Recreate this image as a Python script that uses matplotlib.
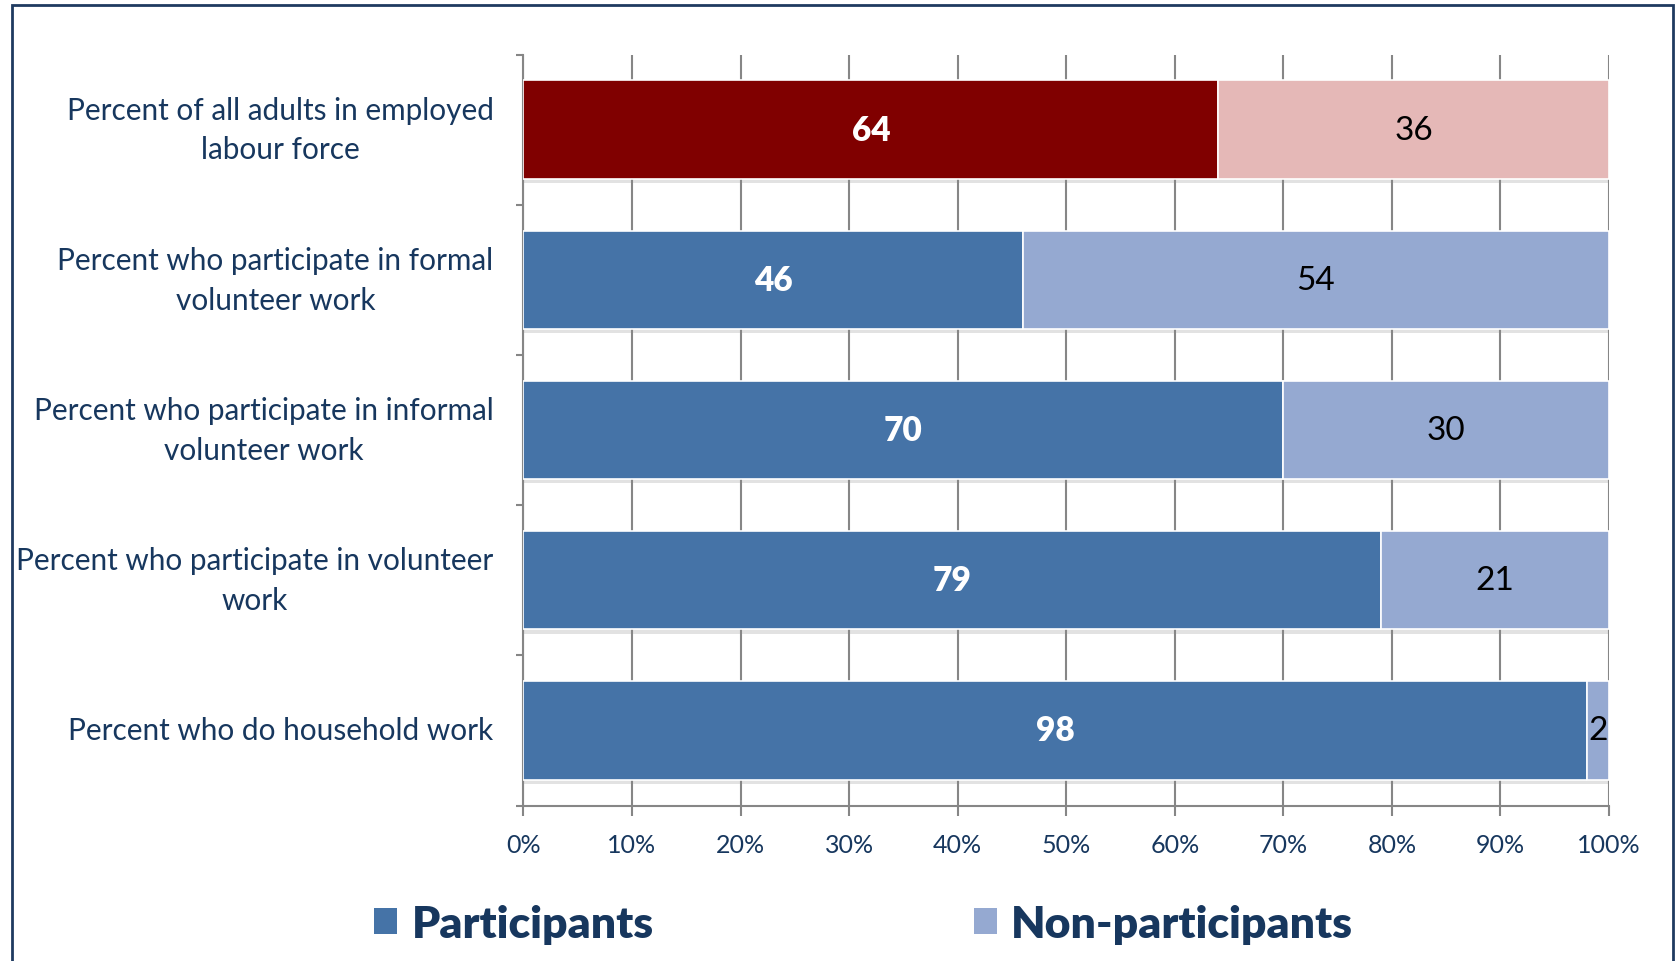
import matplotlib
matplotlib.use("Agg")
import matplotlib.pyplot as plt
import matplotlib.patheffects as pe
from matplotlib.patches import Patch, Rectangle
import numpy as np

# Data
categories = [
    "Percent of all adults in employed\nlabour force",
    "Percent who participate in formal\nvolunteer work",
    "Percent who participate in informal\nvolunteer work",
    "Percent who participate in volunteer\nwork",
    "Percent who do household work",
]
participants = [64, 46, 70, 79, 98]
non_participants = [36, 54, 30, 21, 2]
x_ticks = [0, 10, 20, 30, 40, 50, 60, 70, 80, 90, 100]
x_tick_labels = [f"{v}%" for v in x_ticks]
legend_labels = ["Participants", "Non-participants"]

NAVY = "#17375E"
BLUE = "#4573A7"
LIGHT_BLUE = "#95A9D1"
RED = "#800000"
PINK = "#E5B8B7"
GRID = "#868686"

plt.rcParams["font.family"] = ["Lato", "DejaVu Sans"]

fig = plt.figure(figsize=(16.75, 9.62), dpi=100)
ax = fig.add_axes([0.3125, 0.1616, 0.9606 - 0.3125, 0.9423 - 0.1616])

y = np.arange(len(categories))
part_colors = [RED] + [BLUE] * (len(categories) - 1)
non_colors = [PINK] + [LIGHT_BLUE] * (len(categories) - 1)

shadow = [pe.SimplePatchShadow(offset=(0, -3), shadow_rgbFace="#8c8c8c", alpha=0.25), pe.Normal()]

b1 = ax.barh(y, participants, height=0.655, color=part_colors, edgecolor="white", linewidth=1.2, zorder=3)
b2 = ax.barh(y, non_participants, left=participants, height=0.655, color=non_colors,
             edgecolor="white", linewidth=1.2, zorder=3)
for bar in list(b1) + list(b2):
    bar.set_path_effects(shadow)

# value labels
for yi, p, n in zip(y, participants, non_participants):
    ax.text(p / 2, yi, str(p), ha="center", va="center", color="white",
            fontsize=24, fontweight="heavy", zorder=5)
    ax.text(p + n / 2, yi, str(n), ha="center", va="center", color="black",
            fontsize=24, zorder=5)

ax.set_xlim(0, 100)
ax.set_ylim(len(categories) - 0.5, -0.5)

ax.set_xticks(x_ticks)
ax.set_xticklabels(x_tick_labels)
ax.set_yticks(y)
ax.set_yticklabels(categories, multialignment="center", linespacing=1.5, va="center")
ax.set_yticks(np.arange(-0.5, len(categories), 1), minor=True)

ax.tick_params(axis="x", length=7, width=1.5, color=GRID, labelsize=18, labelcolor=NAVY, pad=13)
ax.tick_params(axis="y", which="major", length=0, labelsize=21.4, labelcolor=NAVY, pad=21.5)
ax.tick_params(axis="y", which="minor", length=5, width=1.5, color=GRID)

ax.grid(axis="x", color=GRID, linewidth=1.5, zorder=0)
ax.set_axisbelow(True)
for side in ["top", "right"]:
    ax.spines[side].set_visible(False)
for side in ["left", "bottom"]:
    ax.spines[side].set_color(GRID)
    ax.spines[side].set_linewidth(1.5)

handles = [Patch(facecolor=BLUE), Patch(facecolor=LIGHT_BLUE)]
leg = fig.legend(handles, legend_labels, loc="center", bbox_to_anchor=(0.5155, 0.0385), ncol=2,
                 frameon=False, handlelength=0.53, handleheight=0.53, handletextpad=0.32,
                 columnspacing=7.2, prop={"size": 32, "weight": "heavy"})
for t in leg.get_texts():
    t.set_color(NAVY)

# outer frame
fig.add_artist(Rectangle((12 / 1675, -0.05), (1673 - 12) / 1675, 1.05 - 6 / 962,
                         transform=fig.transFigure, fill=False, edgecolor="#1F3A60", linewidth=2))

fig.savefig("out.png", dpi=100)
